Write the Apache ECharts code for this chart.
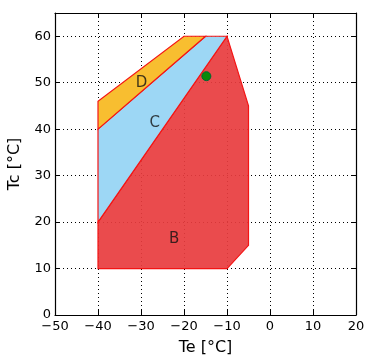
<!DOCTYPE html>
<html><head><meta charset="utf-8">
<script src="https://cdn.jsdelivr.net/npm/echarts@6/dist/echarts.min.js"></script>
<style>html,body{margin:0;padding:0;background:#fff}#c{width:365px;height:358px}</style>
</head><body><div id="c"></div>
<script>
const regionB = [[-40,10],[-10,10],[-5,15],[-5,45],[-10,60],[-40,20]];
const regionC = [[-40,20],[-10,60],[-15,60],[-40,40]];
const regionD = [[-40,40],[-15,60],[-20,60],[-40,46]];
const point = [[-14.8,51.4]];
const labels = [{name:'D',value:[-29.9,50]},{name:'C',value:[-26.8,41.3]},{name:'B',value:[-22.3,16.3]}];
const xTicks = [-50,-40,-30,-20,-10,0,10,20];
const yTicks = [0,10,20,30,40,50,60];

const fmt = v => String(v).replace('-', '\u2212');
const font = 'DejaVu Sans';
function poly(data, fill){
  return {type:'custom', xAxisIndex:0, yAxisIndex:0, data:[0], z:2,
    renderItem:(params, api)=>({type:'polygon',
      shape:{points:data.map(p=>api.coord(p))},
      style:{fill:fill, stroke:'#f41414', lineWidth:1.2}})};
}
const chart = echarts.init(document.getElementById('c'));
const axisCommon = {axisLine:{onZero:false,lineStyle:{color:'#000',width:1.2}}, axisTick:{inside:true,length:5,lineStyle:{color:'#000'}}};
chart.setOption({
  animation:false,
  grid:{left:55,right:9,top:13,bottom:43,containLabel:false,outerBoundsMode:'none'},
  xAxis:[
    {type:'value',min:-50,max:20,interval:10,position:'bottom',...axisCommon,
     axisLabel:{formatter:fmt,color:'#000',fontFamily:font,fontSize:13,margin:5},
     splitLine:{show:true,lineStyle:{color:'#000',type:[1,3],width:1}},
     name:'Te [°C]',nameLocation:'middle',nameGap:25,nameTextStyle:{color:'#000',fontFamily:font,fontSize:16}},
    {type:'value',min:-50,max:20,interval:10,position:'top',...axisCommon,axisLabel:{show:false},splitLine:{show:false}}
  ],
  yAxis:[
    {type:'value',min:0,max:65,interval:10,position:'left',...axisCommon,
     axisLabel:{formatter:fmt,color:'#000',fontFamily:font,fontSize:13,margin:4,showMaxLabel:false},
     splitLine:{show:true,lineStyle:{color:'#000',type:[1,3],width:1}},
     name:'Tc [°C]',nameLocation:'middle',nameGap:32,nameTextStyle:{color:'#000',fontFamily:font,fontSize:16}},
    {type:'value',min:0,max:65,interval:10,position:'right',...axisCommon,axisLabel:{show:false},splitLine:{show:false}}
  ],
  series:[
    poly(regionB,'rgba(232,60,62,0.92)'),
    poly(regionC,'rgb(157,215,245)'),
    poly(regionD,'rgb(248,190,48)'),
    {type:'scatter',data:point,symbolSize:9,z:5,itemStyle:{color:'#0a8a0a',borderColor:'#063',borderWidth:1,opacity:1}},
    {type:'scatter',data:labels,symbolSize:0,z:6,
     label:{show:true,formatter:p=>p.name,position:'inside',color:'#111',fontFamily:font,fontSize:15}}
  ]
});
</script></body></html>
